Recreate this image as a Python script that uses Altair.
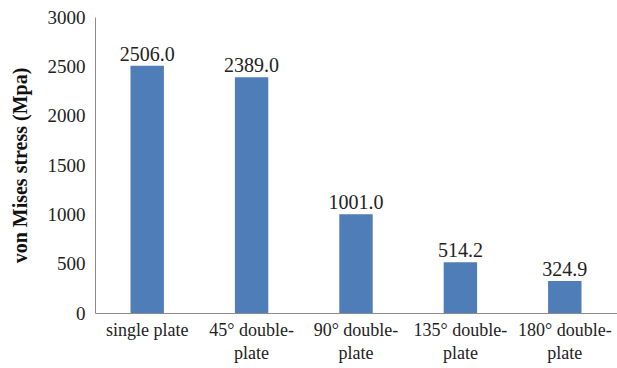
import altair as alt
import pandas as pd

categories = ["single plate", "45° double-\nplate", "90° double-\nplate", "135° double-\nplate", "180° double-\nplate"]
values = [2506.0, 2389.0, 1001.0, 514.2, 324.9]

df = pd.DataFrame({"cat": categories, "val": values})
FONT = "'Times New Roman', 'Liberation Serif', serif"

x = alt.X("cat:N", sort=categories, title=None,
          scale=alt.Scale(paddingInner=0.68, paddingOuter=0.34),
          axis=alt.Axis(labelAngle=0, labelExpr="split(datum.label, '\\n')",
                        ticks=False, labelPadding=8, labelFontSize=18,
                        labelColor="#222222", domainColor="#8c8c8c", labelLineHeight=23))
y = alt.Y("val:Q", title="von Mises stress (Mpa)",
          scale=alt.Scale(domain=[0, 3000], nice=False),
          axis=alt.Axis(values=[0, 500, 1000, 1500, 2000, 2500, 3000], format="d", grid=False, ticks=False,
                        labelPadding=10, labelFontSize=19, labelColor="#222222",
                        domainColor="#8c8c8c", titleFontSize=20,
                        titleFontWeight="bold", titleColor="#111111", titlePadding=17))

bars = alt.Chart(df).mark_bar(color="#4F7DB8").encode(x=x, y=y)
text = alt.Chart(df).mark_text(baseline="bottom", dy=-1, fontSize=20, color="#222222").encode(
    x=alt.X("cat:N", sort=categories), y="val:Q", text=alt.Text("val:Q", format=".1f"))

chart = (bars + text).properties(
    width=522, height=296,
    autosize=alt.AutoSizeParams(type="none"),
    padding={"left": 95, "top": 17, "right": 0, "bottom": 55},
).configure(font=FONT).configure_axis(labelFont=FONT, titleFont=FONT).configure_text(font=FONT).configure_view(stroke=None)

chart.save("out.html", embed_options={"renderer": "svg", "actions": False})
